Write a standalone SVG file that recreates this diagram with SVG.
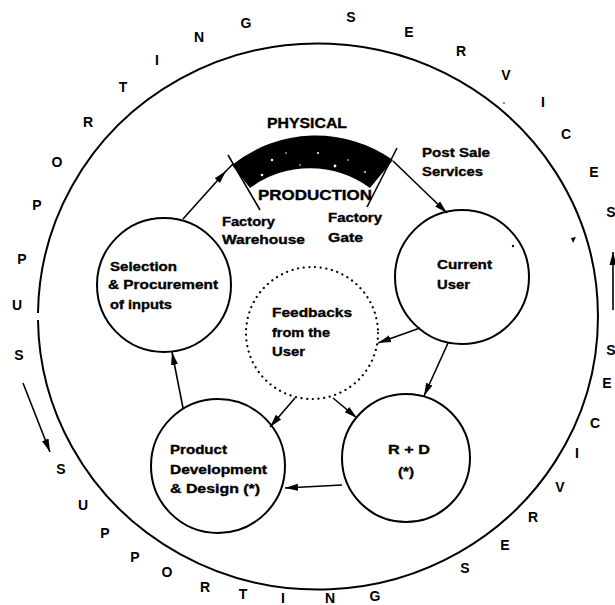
<svg xmlns="http://www.w3.org/2000/svg" width="615" height="605" viewBox="0 0 615 605">
  <defs>
    <marker id="arr" markerUnits="userSpaceOnUse" markerWidth="14" markerHeight="10" refX="13" refY="5" orient="auto">
      <path d="M0,1.5 L13,5 L0,8.5 Z" fill="#000"/>
    </marker>
  </defs>
  <style>
    .ring{fill:none;stroke:#000;stroke-width:2}
    .node{fill:none;stroke:#000;stroke-width:2}
    .fb{fill:none;stroke:#000;stroke-width:2.2;stroke-dasharray:0.1 5.6;stroke-linecap:round}
    .link{fill:none;stroke:#000;stroke-width:1.6}
    .lbl{font-family:"Liberation Sans",Arial,sans-serif;font-weight:bold;font-size:13px;fill:#000;stroke:#000;stroke-width:0.35}
    .big{font-size:14px}
    .ltr{font-family:"Liberation Sans",Arial,sans-serif;font-weight:bold;font-size:14px;fill:#000;text-anchor:middle;dominant-baseline:central}
  </style>
  <rect width="615" height="605" fill="#fff"/>

  <!-- outer ring of supporting services, with a small break on the left -->
  <path class="ring" d="M38,320 A280,273 0 1,0 38,313"/>

  <!-- ring lettering -->
  <g id="ring-text">
    <text class="ltr" x="19" y="355">S</text>
    <text class="ltr" x="17" y="305">U</text>
    <text class="ltr" x="22" y="259">P</text>
    <text class="ltr" x="37" y="205">P</text>
    <text class="ltr" x="57" y="162">O</text>
    <text class="ltr" x="88" y="122">R</text>
    <text class="ltr" x="123" y="87">T</text>
    <text class="ltr" x="157" y="60">I</text>
    <text class="ltr" x="199" y="37">N</text>
    <text class="ltr" x="246" y="23">G</text>
    <text class="ltr" x="351" y="17">S</text>
    <text class="ltr" x="409" y="32">E</text>
    <text class="ltr" x="461" y="51">R</text>
    <text class="ltr" x="506" y="75">V</text>
    <text class="ltr" x="543" y="102">I</text>
    <text class="ltr" x="566" y="134">C</text>
    <text class="ltr" x="594" y="172">E</text>
    <text class="ltr" x="611" y="212">S</text>

    <text class="ltr" x="611" y="350">S</text>
    <text class="ltr" x="607" y="383">E</text>
    <text class="ltr" x="595" y="423">C</text>
    <text class="ltr" x="577" y="453">I</text>
    <text class="ltr" x="560" y="487">V</text>
    <text class="ltr" x="533" y="517">R</text>
    <text class="ltr" x="505" y="545">E</text>
    <text class="ltr" x="465" y="568">S</text>
    <text class="ltr" x="375" y="596">G</text>
    <text class="ltr" x="330" y="598">N</text>
    <text class="ltr" x="283" y="598">I</text>
    <text class="ltr" x="243" y="594">T</text>
    <text class="ltr" x="205" y="587">R</text>
    <text class="ltr" x="167" y="572">O</text>
    <text class="ltr" x="135" y="557">P</text>
    <text class="ltr" x="105" y="533">P</text>
    <text class="ltr" x="83" y="505">U</text>
    <text class="ltr" x="61" y="469">S</text>
  </g>

  <!-- physical production band -->
  <g id="production">
    <path d="M232,165 A134,134 0 0,1 393,160 L370,188 A101,101 0 0,0 250,188 Z" fill="#000"/>
    <g fill="#fff">
      <circle cx="272" cy="160" r="1.2"/>
      <circle cx="286" cy="153" r="0.8"/>
      <circle cx="262" cy="175" r="1.3"/>
      <circle cx="318" cy="153" r="1"/>
      <circle cx="335" cy="166" r="1.4"/>
      <circle cx="348" cy="160" r="0.8"/>
      <circle cx="365" cy="172" r="0.9"/>
      <circle cx="300" cy="165" r="0.8"/>
    </g>
    <line class="link" x1="228" y1="155" x2="260" y2="210"/>
    <line class="link" x1="397" y1="148" x2="367" y2="207"/>
    <text class="lbl big" x="267" y="128" textLength="80" lengthAdjust="spacingAndGlyphs">PHYSICAL</text>
    <text class="lbl big" x="258" y="200" textLength="114" lengthAdjust="spacingAndGlyphs">PRODUCTION</text>
    <text class="lbl" x="222" y="226" textLength="53" lengthAdjust="spacingAndGlyphs">Factory</text>
    <text class="lbl" x="222" y="244" textLength="83" lengthAdjust="spacingAndGlyphs">Warehouse</text>
    <text class="lbl" x="328" y="222" textLength="54" lengthAdjust="spacingAndGlyphs">Factory</text>
    <text class="lbl" x="328" y="242" textLength="35" lengthAdjust="spacingAndGlyphs">Gate</text>
    <text class="lbl" x="422" y="157" textLength="68" lengthAdjust="spacingAndGlyphs">Post Sale</text>
    <text class="lbl" x="422" y="176" textLength="61" lengthAdjust="spacingAndGlyphs">Services</text>
  </g>

  <g id="selection">
    <circle class="node" cx="164" cy="285" r="67"/>
    <text class="lbl" x="110" y="271" textLength="67" lengthAdjust="spacingAndGlyphs">Selection</text>
    <text class="lbl" x="108" y="289" textLength="110" lengthAdjust="spacingAndGlyphs">&amp; Procurement</text>
    <text class="lbl" x="110" y="309" textLength="62" lengthAdjust="spacingAndGlyphs">of inputs</text>
  </g>

  <g id="current-user">
    <circle class="node" cx="462" cy="277" r="67"/>
    <text class="lbl" x="437" y="269" textLength="55" lengthAdjust="spacingAndGlyphs">Current</text>
    <text class="lbl" x="437" y="289" textLength="33" lengthAdjust="spacingAndGlyphs">User</text>
  </g>

  <g id="feedbacks">
    <circle class="fb" cx="312" cy="333" r="66"/>
    <text class="lbl" x="272" y="317" textLength="80" lengthAdjust="spacingAndGlyphs">Feedbacks</text>
    <text class="lbl" x="272" y="337" textLength="58" lengthAdjust="spacingAndGlyphs">from the</text>
    <text class="lbl" x="272" y="356" textLength="33" lengthAdjust="spacingAndGlyphs">User</text>
  </g>

  <g id="product-development">
    <circle class="node" cx="218" cy="466" r="67"/>
    <text class="lbl" x="170" y="454" textLength="57" lengthAdjust="spacingAndGlyphs">Product</text>
    <text class="lbl" x="170" y="474" textLength="97" lengthAdjust="spacingAndGlyphs">Development</text>
    <text class="lbl" x="170" y="493" textLength="90" lengthAdjust="spacingAndGlyphs">&amp; Design (*)</text>
  </g>

  <g id="r-and-d">
    <circle class="node" cx="406" cy="458" r="64"/>
    <text class="lbl" x="388" y="454" textLength="42" lengthAdjust="spacingAndGlyphs">R + D</text>
    <text class="lbl" x="398" y="476" textLength="16" lengthAdjust="spacingAndGlyphs">(*)</text>
  </g>

  <g id="connectors">
    <line class="link" x1="183" y1="219" x2="226" y2="171" marker-end="url(#arr)"/>
    <line class="link" x1="225" y1="172" x2="233" y2="164"/>
    <line class="link" x1="393" y1="161" x2="447" y2="213" marker-end="url(#arr)"/>
    <line class="link" x1="448" y1="343" x2="424" y2="396" marker-end="url(#arr)"/>
    <line class="link" x1="420" y1="328" x2="378" y2="343" marker-end="url(#arr)"/>
    <line class="link" x1="295" y1="398" x2="270" y2="427" marker-end="url(#arr)"/>
    <line class="link" x1="333" y1="398" x2="357" y2="418" marker-end="url(#arr)"/>
    <line class="link" x1="342" y1="485" x2="285" y2="488" marker-end="url(#arr)"/>
    <line class="link" x1="183" y1="408" x2="172" y2="352" marker-end="url(#arr)"/>
    <line class="link" x1="23" y1="383" x2="50" y2="452" marker-end="url(#arr)"/>
    <line class="link" x1="613" y1="310" x2="613" y2="252" marker-end="url(#arr)"/>
  </g>

  <!-- small specks -->
  <g fill="#000">
    <circle cx="513" cy="246" r="1.2"/>
    <path d="M571,238 L576,237 L573,243 Z"/>
    <circle cx="504" cy="103" r="0.8"/>
  </g>
</svg>
